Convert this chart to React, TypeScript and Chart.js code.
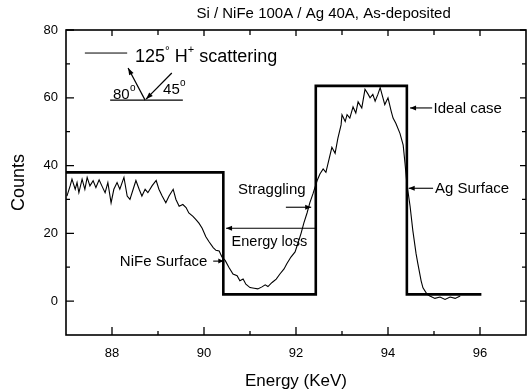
import React, { useEffect, useRef } from "react";
import { Chart, registerables } from "chart.js";

Chart.register(...registerables);

// Measured spectrum (Energy in keV, Counts)
const energy = [
  87.02, 87.09, 87.13, 87.2, 87.24, 87.28, 87.35, 87.41, 87.46, 87.52, 87.59, 87.65, 87.72, 87.78, 87.85, 87.91,
  87.98, 88.04, 88.11, 88.17, 88.26, 88.33, 88.39, 88.46, 88.52, 88.59, 88.65, 88.72, 88.78, 88.87, 88.96, 89.02,
  89.09, 89.17, 89.24, 89.33, 89.39, 89.46, 89.54, 89.61, 89.67, 89.76, 89.83, 89.89, 89.96, 90.04, 90.11, 90.2,
  90.26, 90.33, 90.39, 90.46, 90.54, 90.63, 90.72, 90.78, 90.85, 90.91, 91.0, 91.09, 91.17, 91.26, 91.33, 91.39,
  91.48, 91.57, 91.65, 91.74, 91.8, 91.89, 91.98, 92.04, 92.11, 92.17, 92.24, 92.3, 92.37, 92.46, 92.52, 92.59,
  92.65, 92.72, 92.78, 92.85, 92.91, 92.98, 93.0, 93.07, 93.11, 93.17, 93.24, 93.3, 93.35, 93.43, 93.5, 93.57,
  93.61, 93.67, 93.72, 93.78, 93.83, 93.89, 93.93, 94.0, 94.07, 94.11, 94.17, 94.26, 94.33, 94.37, 94.41, 94.48,
  94.54, 94.61, 94.65, 94.72, 94.76, 94.85, 94.91, 95.02, 95.13, 95.24, 95.35, 95.46, 95.57,
];
const counts = [
  31, 34, 36, 33, 35, 32, 36, 33, 36.5, 34, 35.5, 33.5, 35.8, 34, 32, 35,
  29, 33, 35, 33, 36.5, 31, 30, 33, 35.6, 33, 31, 33, 32, 34, 35.6, 33,
  31, 29, 31, 33, 30, 28, 28.5, 27.6, 26, 25, 24, 23, 21.5, 19, 17.5, 15.8,
  15, 14.8, 13, 12, 10, 8, 7.5, 6, 6.5, 5, 4, 3.8, 3.6, 4.2, 4.8, 4.3,
  5.5, 6.5, 8, 9.5, 11, 13, 14.5, 17, 20, 23, 26, 29, 31.7, 35.6, 37.5, 39,
  38, 42, 45.4, 43.6, 48, 52, 55, 53, 55, 54, 57.3, 55.5, 58.8, 57, 62.5, 61,
  60, 61, 59, 61, 63, 60, 58, 60, 56, 54, 52.5, 49.5, 46, 40.6, 34.7, 28,
  20.8, 14, 11, 6, 3.9, 2, 1.5, 0.8, 1.2, 0.5, 1.2, 0.8, 1.5,
];

// Ideal case step profile
const idealEnergy = [87, 90.42, 90.42, 92.43, 92.43, 94.41, 94.41, 96.03];
const idealCounts = [38, 38, 2, 2, 63.5, 63.5, 2, 2];

// Axis ticks
const xTickLabels = [88, 90, 92, 94, 96];
const xMinorTicks = [89, 91, 93, 95];
const yTickLabels = [0, 20, 40, 60, 80];
const yMinorTicks = [10, 30, 50, 70];

const TITLE = "Si / NiFe 100A / Ag 40A, As-deposited";
const FONT = "'Liberation Sans', Arial, Helvetica, sans-serif";

function arrow(ctx: CanvasRenderingContext2D, x1: number, y1: number, x2: number, y2: number, head = 6) {
  ctx.beginPath();
  ctx.moveTo(x1, y1);
  ctx.lineTo(x2, y2);
  ctx.stroke();
  const a = Math.atan2(y2 - y1, x2 - x1);
  ctx.beginPath();
  ctx.moveTo(x2, y2);
  ctx.lineTo(x2 - head * Math.cos(a) + 2.5 * Math.sin(a), y2 - head * Math.sin(a) - 2.5 * Math.cos(a));
  ctx.lineTo(x2 - head * Math.cos(a) - 2.5 * Math.sin(a), y2 - head * Math.sin(a) + 2.5 * Math.cos(a));
  ctx.closePath();
  ctx.fill();
}

const decorPlugin = {
  id: "decor",
  afterDraw(chart: any) {
    const ctx: CanvasRenderingContext2D = chart.ctx;
    const xs = chart.scales.x;
    const ys = chart.scales.y;
    const a = chart.chartArea;
    const X = (e: number) => xs.getPixelForValue(e);
    const Y = (v: number) => ys.getPixelForValue(v);
    ctx.save();
    ctx.strokeStyle = "#000";
    ctx.fillStyle = "#000";

    // frame
    ctx.lineWidth = 1.6;
    ctx.strokeRect(a.left, a.top, a.right - a.left, a.bottom - a.top);

    // ticks
    ctx.lineWidth = 1.3;
    ctx.beginPath();
    xTickLabels.forEach((v) => {
      ctx.moveTo(X(v), a.bottom); ctx.lineTo(X(v), a.bottom - 8);
      ctx.moveTo(X(v), a.top); ctx.lineTo(X(v), a.top + 6);
    });
    xMinorTicks.forEach((v) => {
      ctx.moveTo(X(v), a.bottom); ctx.lineTo(X(v), a.bottom - 4);
      ctx.moveTo(X(v), a.top); ctx.lineTo(X(v), a.top + 5);
    });
    yTickLabels.forEach((v) => {
      ctx.moveTo(a.left, Y(v)); ctx.lineTo(a.left + 8, Y(v));
      ctx.moveTo(a.right, Y(v)); ctx.lineTo(a.right - 6, Y(v));
    });
    yMinorTicks.forEach((v) => {
      ctx.moveTo(a.left, Y(v)); ctx.lineTo(a.left + 4, Y(v));
      ctx.moveTo(a.right, Y(v)); ctx.lineTo(a.right - 4, Y(v));
    });
    ctx.stroke();

    // title
    ctx.font = `15px ${FONT}`;
    ctx.textAlign = "center";
    ctx.textBaseline = "middle";
    ctx.fillText(TITLE, X(92.6), a.top - 16);

    // legend
    ctx.lineWidth = 1;
    ctx.beginPath();
    ctx.moveTo(X(87.41), Y(73.2));
    ctx.lineTo(X(88.33), Y(73.2));
    ctx.stroke();
    ctx.textAlign = "left";
    ctx.textBaseline = "alphabetic";
    let tx = X(88.5);
    const ty = Y(70.6);
    const seg = (t: string, size: number, dy: number) => {
      ctx.font = `${size}px ${FONT}`;
      ctx.fillText(t, tx, ty + dy);
      tx += ctx.measureText(t).width;
    };
    seg("125", 18, 0);
    seg("°", 12, -7);
    seg(" H", 18, 0);
    seg("+", 11, -9);
    seg(" scattering", 18, 0);

    // geometry sketch
    ctx.lineWidth = 1.2;
    ctx.beginPath();
    ctx.moveTo(X(87.96), Y(59.3));
    ctx.lineTo(X(89.54), Y(59.3));
    ctx.stroke();
    arrow(ctx, X(88.72), Y(59.3), X(88.35), Y(68.8), 7);
    arrow(ctx, X(89.3), Y(67.3), X(88.74), Y(59.6), 7);
    ctx.font = `15px ${FONT}`;
    ctx.fillText("80", X(88.02), Y(59.6));
    ctx.font = `10px ${FONT}`;
    ctx.fillText("o", X(88.02) + 17, Y(59.6) - 8);
    ctx.font = `15px ${FONT}`;
    ctx.fillText("45", X(89.11), Y(61.0));
    ctx.font = `10px ${FONT}`;
    ctx.fillText("o", X(89.11) + 17, Y(61.0) - 8);

    // labels with arrows
    ctx.lineWidth = 1.1;
    ctx.font = `15px ${FONT}`;
    ctx.textBaseline = "middle";
    arrow(ctx, X(94.96), Y(57), X(94.48), Y(57), 6);
    ctx.fillText("Ideal case", X(94.99), Y(56.6));
    arrow(ctx, X(94.98), Y(33.3), X(94.45), Y(33.3), 6);
    ctx.fillText("Ag Surface", X(95.02), Y(33));
    ctx.fillText("Straggling", X(90.74), Y(32.7));
    arrow(ctx, X(91.78), Y(27.7), X(92.33), Y(27.7), 6);
    arrow(ctx, X(92.43), Y(21.5), X(90.48), Y(21.5), 6);
    ctx.font = `14.5px ${FONT}`;
    ctx.fillText("Energy loss", X(90.6), Y(17.4));
    ctx.font = `15px ${FONT}`;
    ctx.fillText("NiFe Surface", X(88.17), Y(11.5));
    arrow(ctx, X(90.2), Y(11.8), X(90.42), Y(11.8), 5);
    ctx.restore();
  },
};

export default function App() {
  const ref = useRef<HTMLCanvasElement>(null);
  useEffect(() => {
    if (!ref.current) return;
    const chart = new Chart(ref.current, {
      type: "line",
      data: {
        datasets: [
          {
            label: "Ideal case",
            data: idealEnergy.map((x, i) => ({ x, y: idealCounts[i] })),
            borderColor: "#000",
            borderWidth: 2.6,
            pointRadius: 0,
            tension: 0,
          },
          {
            label: "125° H+ scattering",
            data: energy.map((x, i) => ({ x, y: counts[i] })),
            borderColor: "#000",
            borderWidth: 1.1,
            pointRadius: 0,
            tension: 0,
          },
        ],
      },
      options: {
        responsive: false,
        animation: false,
        layout: { padding: { top: 30, right: 1, left: 0, bottom: 0 } },
        plugins: { legend: { display: false }, tooltip: { enabled: false }, title: { display: false } },
        scales: {
          x: {
            type: "linear",
            min: 87,
            max: 97,
            grid: { display: false },
            border: { display: false },
            afterBuildTicks: (s: any) => { s.ticks = xTickLabels.map((v) => ({ value: v })); },
            afterFit: (s: any) => { s.height = 57; },
            ticks: { color: "#000", font: { family: FONT, size: 13 }, padding: 3, maxRotation: 0 },
            title: {
              display: true,
              text: "Energy (KeV)",
              color: "#000",
              font: { family: FONT, size: 17 },
              padding: { top: 0, bottom: 0 },
            },
          },
          y: {
            type: "linear",
            min: -10,
            max: 80,
            grid: { display: false },
            border: { display: false },
            afterBuildTicks: (s: any) => { s.ticks = yTickLabels.map((v) => ({ value: v })); },
            afterFit: (s: any) => { s.width = 66; },
            ticks: { color: "#000", font: { family: FONT, size: 13 }, padding: 0 },
            title: {
              display: true,
              text: "Counts",
              color: "#000",
              font: { family: FONT, size: 18 },
              padding: { top: 8, bottom: 0 },
            },
          },
        },
      },
      plugins: [decorPlugin],
    });
    return () => chart.destroy();
  }, []);
  return (
    <div style={{ position: "fixed", left: 0, top: 0, width: 527, height: 392, background: "#fff" }}>
      <canvas ref={ref} width={527} height={392} />
    </div>
  );
}
